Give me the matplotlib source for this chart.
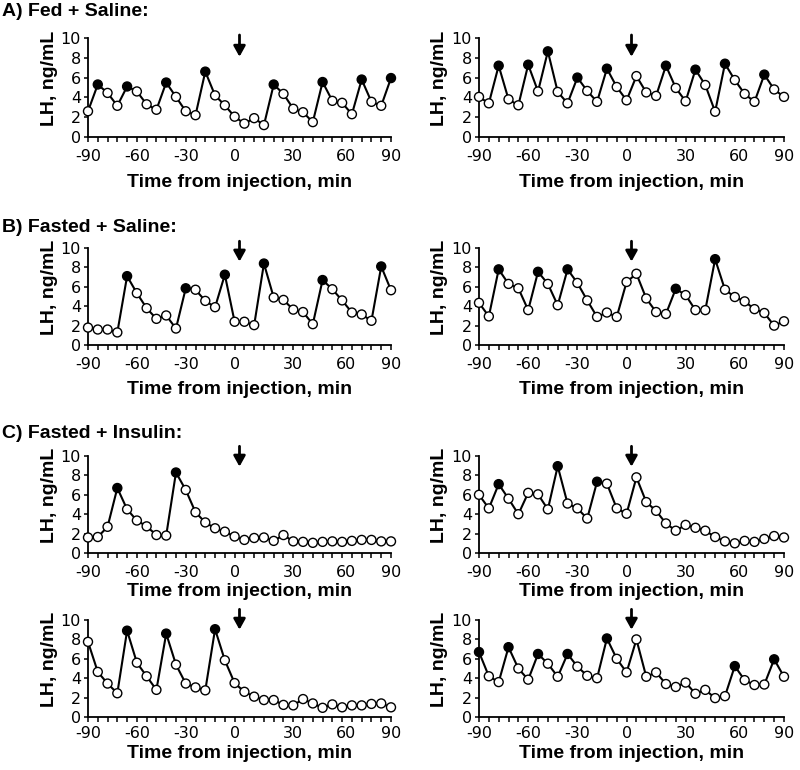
import matplotlib
matplotlib.use("Agg")
import matplotlib.pyplot as plt

# LH samples, 32 per animal, one every ~6 min from -90 to 90 min
fed_sal_1 = [2.6, 5.3, 4.45, 3.15, 5.1, 4.6, 3.3, 2.75, 5.5, 4.05, 2.6, 2.2, 6.6, 4.2, 3.2, 2.05,
             1.35, 1.9, 1.2, 5.3, 4.35, 2.85, 2.5, 1.5, 5.55, 3.65, 3.45, 2.3, 5.8, 3.55, 3.15, 5.95]
fed_sal_2 = [4.05, 3.4, 7.2, 3.8, 3.2, 7.3, 4.6, 8.65, 4.55, 3.4, 6.0, 4.65, 3.55, 6.9, 5.05, 3.7,
             6.15, 4.5, 4.15, 7.2, 4.95, 3.6, 6.8, 5.25, 2.55, 7.4, 5.75, 4.35, 3.55, 6.3, 4.8, 4.05]
fast_sal_1 = [1.8, 1.6, 1.6, 1.3, 7.1, 5.35, 3.8, 2.7, 3.05, 1.7, 5.85, 5.7, 4.55, 3.9, 7.25, 2.4,
              2.4, 2.05, 8.4, 4.9, 4.65, 3.65, 3.4, 2.15, 6.7, 5.75, 4.6, 3.35, 3.15, 2.5, 8.1, 5.65]
fast_sal_2 = [4.35, 2.95, 7.8, 6.3, 5.85, 3.6, 7.55, 6.3, 4.1, 7.8, 6.4, 4.6, 2.9, 3.35, 2.9, 6.5,
              7.35, 4.8, 3.4, 3.2, 5.8, 5.15, 3.6, 3.6, 8.85, 5.7, 4.95, 4.5, 3.7, 3.3, 2.0, 2.45]
fast_ins_1 = [1.6, 1.65, 2.7, 6.7, 4.5, 3.35, 2.75, 1.85, 1.8, 8.3, 6.5, 4.2, 3.15, 2.55, 2.2, 1.7,
              1.35, 1.55, 1.6, 1.25, 1.85, 1.2, 1.15, 1.05, 1.15, 1.2, 1.15, 1.25, 1.35, 1.35, 1.2, 1.2]
fast_ins_2 = [6.0, 4.6, 7.1, 5.6, 4.0, 6.2, 6.05, 4.5, 8.95, 5.1, 4.6, 3.55, 7.35, 7.15, 4.6, 4.05,
              7.8, 5.25, 4.35, 3.05, 2.3, 2.9, 2.6, 2.3, 1.65, 1.2, 1.0, 1.25, 1.15, 1.45, 1.75, 1.6]
fast_ins_3 = [7.75, 4.65, 3.45, 2.45, 8.9, 5.6, 4.2, 2.8, 8.6, 5.4, 3.45, 3.05, 2.75, 9.05, 5.85, 3.5,
              2.6, 2.1, 1.75, 1.75, 1.25, 1.2, 1.85, 1.4, 0.95, 1.3, 1.0, 1.2, 1.2, 1.35, 1.4, 1.0]
fast_ins_4 = [6.7, 4.2, 3.6, 7.2, 5.0, 3.85, 6.5, 5.5, 4.15, 6.5, 5.2, 4.25, 4.0, 8.1, 6.0, 4.6,
              8.0, 4.15, 4.6, 3.4, 3.1, 3.55, 2.4, 2.8, 1.95, 2.15, 5.25, 3.8, 3.3, 3.35, 5.95, 4.15]

# sample indices of detected LH pulses (filled symbols)
peaks_fed_sal_1 = [1, 4, 8, 12, 19, 24, 28, 31]
peaks_fed_sal_2 = [2, 5, 7, 10, 13, 19, 22, 25, 29]
peaks_fast_sal_1 = [4, 10, 14, 18, 24, 30]
peaks_fast_sal_2 = [2, 6, 9, 20, 24]
peaks_fast_ins_1 = [3, 9]
peaks_fast_ins_2 = [2, 8, 12]
peaks_fast_ins_3 = [4, 8, 13]
peaks_fast_ins_4 = [0, 3, 6, 9, 13, 26, 30]

time_labels = ["-90", "-60", "-30", "0", "30", "60", "90"]
section_titles = ["A) Fed + Saline:", "B) Fasted + Saline:", "C) Fasted + Insulin:"]

BOLD = "Liberation Sans"

fig = plt.figure(figsize=(8, 7.7), dpi=100)

# row layout: (bottom, height, tick label pad, xlabel offset, arrow top, arrow tip)
rows = [(0.8221, 0.1286, 8.5, -0.37, 10.3, 8.1),
        (0.5519, 0.126, 8.5, -0.37, 10.7, 8.6),
        (0.2818, 0.126, 8.5, -0.31, 11.0, 8.9),
        (0.0688, 0.126, 6.5, -0.285, 11.1, 9.0)]
cols = [(88 / 800, 303 / 800), (479 / 800, 305 / 800)]

panels = [[(fed_sal_1, peaks_fed_sal_1), (fed_sal_2, peaks_fed_sal_2)],
          [(fast_sal_1, peaks_fast_sal_1), (fast_sal_2, peaks_fast_sal_2)],
          [(fast_ins_1, peaks_fast_ins_1), (fast_ins_2, peaks_fast_ins_2)],
          [(fast_ins_3, peaks_fast_ins_3), (fast_ins_4, peaks_fast_ins_4)]]

label_pos = [0, 5, 10, 15, 21, 26.4, 31]

for r, (bottom, height, tpad, xl_off, a_top, a_tip) in enumerate(rows):
    for c, (left, width) in enumerate(cols):
        vals, peaks = panels[r][c]
        ax = fig.add_axes([left, bottom, width, height])
        x = list(range(len(vals)))
        ax.plot(x, vals, color="black", lw=1.5, zorder=2, clip_on=False)
        face = ["black" if i in peaks else "white" for i in x]
        ax.scatter(x, vals, s=42, c=face, edgecolors="black", linewidths=1.0,
                   zorder=3, clip_on=False)

        ax.set_xlim(0, len(vals) - 1)
        ax.set_ylim(0, 10)
        for side in ["top", "right"]:
            ax.spines[side].set_visible(False)
        for side in ["left", "bottom"]:
            ax.spines[side].set_linewidth(1.3)

        # tick marks at every sample, labels placed separately
        ax.xaxis.remove_overlapping_locs = False
        ax.set_xticks(label_pos, time_labels)
        ax.tick_params(axis="x", which="major", length=0, pad=tpad, labelsize=11.5)
        ax.set_xticks(x, minor=True)
        ax.tick_params(axis="x", which="minor", direction="out", length=3.5, width=1.1)
        ax.set_yticks([0, 2, 4, 6, 8, 10])
        ax.tick_params(axis="y", direction="out", length=3, width=1.1, pad=2, labelsize=11.5)

        ax.set_ylabel("LH, ng/mL", fontsize=14, fontweight="bold", family=BOLD)
        ax.yaxis.set_label_coords(-0.10, 0.59)
        ax.set_xlabel("Time from injection, min", fontsize=14, fontweight="bold", family=BOLD)
        ax.xaxis.set_label_coords(0.5, xl_off)

        ax.annotate("", xy=(15.5, a_tip), xytext=(15.5, a_top), annotation_clip=False,
                    arrowprops=dict(arrowstyle="-|>,head_length=0.45,head_width=0.25",
                                    color="black", lw=2, mutation_scale=14, shrinkA=0, shrinkB=0))

fig.text(0.003, 1 - 16 / 770, section_titles[0], fontsize=14, fontweight="bold", family=BOLD, va="baseline")
fig.text(0.003, 1 - 232 / 770, section_titles[1], fontsize=14, fontweight="bold", family=BOLD, va="baseline")
fig.text(0.003, 1 - 438 / 770, section_titles[2], fontsize=14, fontweight="bold", family=BOLD, va="baseline")

fig.savefig("out.png", dpi=100)
